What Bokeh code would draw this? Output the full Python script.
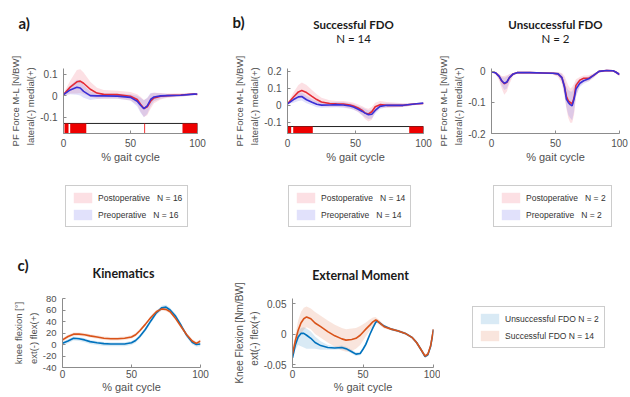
from bokeh.plotting import figure
from bokeh.layouts import column, row
from bokeh.models import (Range1d, FixedTicker, CustomJSTickFormatter,
                          Legend, LegendItem)
from bokeh.core.properties import value
from bokeh.embed import file_html
from bokeh.resources import INLINE

# ---------------- data ----------------
# Panel a) all patients (N=16)
xa = [0, 5, 10, 12.5, 15, 20, 25, 30, 40, 50, 55, 57.5, 60, 62.5, 65, 67.5, 72.5, 77.5, 87.5, 97.5, 100]
post_a = [0.005, 0.04, 0.065, 0.068, 0.058, 0.03, 0.012, 0.006, 0.005, -0.003, -0.018, -0.04, -0.06, -0.052, -0.026, -0.011, -0.003, 0, 0.003, 0.008, 0.005]
post_a_hi = [0.010, 0.070, 0.120, 0.123, 0.108, 0.065, 0.037, 0.026, 0.023, 0.017, 0.007, -0.005, -0.020, -0.012, 0.009, 0.014, 0.012, 0.010, 0.011, 0.013, 0.009]
post_a_lo = [0.000, 0.010, 0.010, 0.013, 0.008, -0.005, -0.013, -0.014, -0.013, -0.023, -0.043, -0.075, -0.100, -0.092, -0.061, -0.036, -0.018, -0.010, -0.005, 0.003, 0.001]
pre_a = [0.005, 0.027, 0.039, 0.036, 0.02, 0, -0.001, -0.001, -0.002, -0.008, -0.026, -0.045, -0.061, -0.048, -0.018, -0.006, -0.001, 0, 0.002, 0.007, 0.008]
pre_a_hi = [0.010, 0.047, 0.074, 0.071, 0.050, 0.020, 0.014, 0.011, 0.010, 0.007, -0.001, -0.010, -0.021, -0.010, 0.012, 0.014, 0.011, 0.008, 0.008, 0.012, 0.012]
pre_a_lo = [0.000, 0.007, 0.004, 0.001, -0.010, -0.020, -0.016, -0.013, -0.014, -0.023, -0.051, -0.080, -0.101, -0.086, -0.048, -0.026, -0.013, -0.008, -0.004, 0.002, 0.004]
sig_a_start = [0.75, 5, 60.3, 88.8]
sig_a_end = [3.75, 17, 60.9, 100]

# Panel b) successful FDO (N=14)
xb = [0, 4.4, 8, 10.5, 14, 18, 21.5, 25, 31, 36, 41, 46, 48.5, 52, 55, 57, 59.5, 62, 64.5, 68, 73, 85, 95, 100]
post_b = [0.009, 0.049, 0.079, 0.087, 0.075, 0.053, 0.034, 0.020, 0.011, 0.009, 0.008, 0.002, -0.004, -0.015, -0.030, -0.045, -0.051, -0.038, -0.008, 0.004, 0.000, 0.000, 0.009, 0.011]
post_b_hi = [0.012, 0.075, 0.120, 0.135, 0.120, 0.090, 0.065, 0.045, 0.030, 0.025, 0.025, 0.020, 0.015, 0.005, -0.005, -0.015, -0.020, -0.010, 0.015, 0.025, 0.020, 0.012, 0.014, 0.014]
post_b_lo = [0.006, 0.025, 0.040, 0.045, 0.035, 0.020, 0.005, -0.005, -0.008, -0.008, -0.010, -0.018, -0.025, -0.040, -0.060, -0.080, -0.095, -0.085, -0.040, -0.015, -0.015, -0.010, 0.004, 0.008]
pre_b = [0.009, 0.034, 0.050, 0.052, 0.033, 0.018, 0.006, 0.001, 0.002, 0.004, 0.002, -0.004, -0.010, -0.023, -0.036, -0.046, -0.055, -0.053, -0.030, -0.006, 0.000, 0.000, 0.009, 0.013]
pre_b_hi = [0.012, 0.055, 0.075, 0.075, 0.055, 0.038, 0.025, 0.018, 0.018, 0.020, 0.018, 0.012, 0.006, -0.005, -0.015, -0.022, -0.030, -0.028, -0.010, 0.010, 0.012, 0.010, 0.014, 0.016]
pre_b_lo = [0.006, 0.015, 0.025, 0.028, 0.012, 0.000, -0.012, -0.015, -0.013, -0.012, -0.014, -0.020, -0.026, -0.040, -0.058, -0.070, -0.080, -0.078, -0.050, -0.022, -0.012, -0.010, 0.004, 0.010]
sig_b_start = [0, 4.2, 89.5]
sig_b_end = [2.7, 18.6, 100]

# Panel b) unsuccessful FDO (N=2)
xc = [0, 3, 6, 8, 10, 12, 14, 17, 20, 30, 40, 48, 52, 55, 57, 58.5, 60, 61.5, 63, 64.5, 66, 69, 72, 76, 80, 84, 90, 95, 97, 100]
pre_c = [-0.001, -0.004, -0.016, -0.030, -0.038, -0.034, -0.020, -0.008, -0.004, -0.004, -0.005, -0.006, -0.008, -0.020, -0.050, -0.089, -0.100, -0.107, -0.111, -0.089, -0.057, -0.038, -0.030, -0.024, -0.012, 0.000, 0.003, 0.002, -0.002, -0.010]
post_c = [-0.001, -0.004, -0.016, -0.031, -0.040, -0.035, -0.020, -0.008, -0.004, -0.004, -0.005, -0.006, -0.008, -0.020, -0.048, -0.080, -0.095, -0.100, -0.105, -0.085, -0.045, -0.028, -0.022, -0.022, -0.012, 0.000, 0.003, 0.002, -0.002, -0.010]
post_c_hi = [0.000, -0.002, -0.008, -0.015, -0.015, -0.012, -0.008, -0.004, -0.002, -0.002, -0.003, -0.003, -0.002, -0.005, -0.015, -0.030, -0.045, -0.055, -0.050, -0.040, -0.025, -0.018, -0.013, -0.012, -0.006, 0.002, 0.005, 0.004, 0.001, -0.004]
post_c_lo = [-0.002, -0.006, -0.030, -0.055, -0.075, -0.065, -0.040, -0.014, -0.007, -0.006, -0.007, -0.010, -0.018, -0.040, -0.080, -0.120, -0.150, -0.165, -0.165, -0.140, -0.080, -0.045, -0.035, -0.032, -0.020, -0.004, 0.000, -0.001, -0.006, -0.016]
pre_c_hi = [0.000, -0.002, -0.009, -0.018, -0.020, -0.016, -0.010, -0.005, -0.002, -0.002, -0.003, -0.003, -0.003, -0.008, -0.025, -0.050, -0.060, -0.065, -0.065, -0.050, -0.035, -0.025, -0.020, -0.016, -0.007, 0.002, 0.005, 0.004, 0.001, -0.005]
pre_c_lo = [-0.002, -0.006, -0.025, -0.045, -0.060, -0.055, -0.032, -0.012, -0.006, -0.006, -0.007, -0.009, -0.014, -0.032, -0.075, -0.115, -0.140, -0.150, -0.157, -0.130, -0.080, -0.050, -0.040, -0.032, -0.018, -0.003, 0.001, 0.000, -0.005, -0.015]

# Panel c) kinematics (knee flexion, deg)
xk = [0, 4, 8, 12, 16, 20, 25, 30, 35, 40, 45, 50, 53, 56, 60, 64, 68, 72, 75, 78, 82, 86, 90, 94, 97, 100]
succ_k = [8, 14, 18, 18, 17, 15, 13, 11, 10, 10, 11, 13, 17, 24, 35, 47, 57, 62, 61, 57, 45, 31, 17, 6, 2, 6]
succ_k_hi = [11, 17, 21, 21, 20, 18, 16, 14, 13, 13, 14, 16, 20, 27, 38, 50, 60, 65, 64, 60, 48, 34, 20, 9, 5, 9]
succ_k_lo = [5, 11, 15, 15, 14, 12, 10, 8, 7, 7, 8, 10, 14, 21, 32, 44, 54, 59, 58, 54, 42, 28, 14, 3, -1, 3]
uns_k = [2, 6, 11, 10, 8, 5, 3, 1.5, 1, 1, 1, 3, 7, 14, 26, 41, 55, 64, 65, 60, 49, 33, 16, 4, 0, 1]
uns_k_hi = [5, 9, 14, 13, 11, 8, 6, 4.5, 4, 4, 4, 6, 10, 17, 29, 44, 58, 68, 69, 64, 53, 37, 19, 7, 3, 4]
uns_k_lo = [-2, 2, 7, 6, 4, 1, -1, -2.5, -3, -3, -3, -1, 3, 10, 22, 37, 51, 60, 61, 56, 45, 29, 12, 0, -4, -3]

# Panel c) external knee flexion moment (Nm/BW)
xm = [0, 2, 4, 6, 8, 10, 13, 16, 20, 25, 30, 35, 38, 42, 45, 48, 50, 52, 55, 57, 59, 60, 62, 65, 70, 75, 80, 85, 88, 91, 94, 96, 98, 100]
succ_m = [-0.033, -0.011, 0.006, 0.018, 0.025, 0.028, 0.025, 0.018, 0.012, 0.004, -0.003, -0.008, -0.010, -0.009, -0.007, -0.002, 0.003, 0.008, 0.015, 0.020, 0.023, 0.022, 0.018, 0.012, 0.008, 0.005, 0.001, -0.006, -0.014, -0.025, -0.036, -0.033, -0.019, 0.008]
succ_m_hi = [-0.028, -0.002, 0.022, 0.036, 0.043, 0.045, 0.042, 0.036, 0.030, 0.022, 0.015, 0.010, 0.008, 0.009, 0.010, 0.013, 0.016, 0.019, 0.024, 0.027, 0.028, 0.026, 0.022, 0.015, 0.010, 0.007, 0.003, -0.004, -0.011, -0.022, -0.033, -0.030, -0.016, 0.010]
succ_m_lo = [-0.038, -0.020, -0.010, 0.000, 0.007, 0.011, 0.008, 0.000, -0.006, -0.014, -0.021, -0.027, -0.029, -0.028, -0.024, -0.018, -0.011, -0.004, 0.006, 0.013, 0.018, 0.018, 0.014, 0.009, 0.006, 0.003, -0.001, -0.008, -0.017, -0.028, -0.039, -0.036, -0.022, 0.006]
uns_m = [-0.039, -0.018, -0.005, 0.001, 0.001, -0.002, -0.007, -0.014, -0.019, -0.022, -0.023, -0.022, -0.024, -0.029, -0.033, -0.032, -0.025, -0.017, 0.000, 0.010, 0.019, 0.021, 0.018, 0.013, 0.008, 0.005, 0.001, -0.006, -0.014, -0.025, -0.037, -0.034, -0.020, 0.007]
uns_m_hi = [-0.035, -0.012, 0.003, 0.010, 0.011, 0.009, 0.004, -0.004, -0.012, -0.018, -0.020, -0.019, -0.021, -0.026, -0.030, -0.029, -0.022, -0.013, 0.003, 0.013, 0.021, 0.023, 0.020, 0.015, 0.010, 0.007, 0.003, -0.004, -0.012, -0.023, -0.035, -0.032, -0.018, 0.009]
uns_m_lo = [-0.043, -0.026, -0.018, -0.020, -0.022, -0.024, -0.024, -0.024, -0.026, -0.026, -0.026, -0.025, -0.027, -0.032, -0.036, -0.035, -0.028, -0.021, -0.003, 0.007, 0.017, 0.019, 0.016, 0.011, 0.006, 0.003, -0.001, -0.008, -0.016, -0.027, -0.039, -0.036, -0.022, 0.005]

x_ticks = [0, 50, 100]

# ---------------- style ----------------
FONT = "Liberation Sans"
TFONT = "Lato"
TXT = "#505050"
AX = "#8c8c8c"
POST_LINE, PRE_LINE = "#e52a35", "#3a2fd6"
POST_BAND, PRE_BAND = "#f47f8f", "#8080f0"
BAND_ALPHA = 0.24
UNS, SUC = "#0072BD", "#D95319"
SIG = "#ee0000"
W = 630


def base_fig(w, h, bl, br, bt, bb, yr, yticks, ylabel, xls=3, xas=1):
    p = figure(width=w, height=h, x_range=Range1d(0, 100), y_range=Range1d(*yr),
               output_backend="svg", toolbar_location=None, title=None,
               min_border_left=bl, min_border_right=br,
               min_border_top=bt, min_border_bottom=bb)
    p.outline_line_color = None
    p.xgrid.visible = False
    p.ygrid.visible = False
    p.background_fill_color = "white"
    p.border_fill_color = "white"
    for ax in (p.xaxis[0], p.yaxis[0]):
        ax.axis_line_color = AX
        ax.major_tick_line_color = AX
        ax.major_tick_in = 3
        ax.major_tick_out = 0
        ax.minor_tick_line_color = None
        ax.major_label_text_font = FONT
        ax.major_label_text_font_size = "10px"
        ax.major_label_text_color = TXT
        ax.axis_label_text_font = FONT
        ax.axis_label_text_color = TXT
        ax.axis_label_text_font_style = "normal"
        ax.formatter = CustomJSTickFormatter(code="return tick.toString();")
    p.xaxis.axis_label_text_font_size = "11px"
    p.yaxis.axis_label_text_font_size = "9.5px"
    p.yaxis.axis_label_text_line_height = 1.35
    p.xaxis.ticker = FixedTicker(ticks=x_ticks)
    p.yaxis.ticker = FixedTicker(ticks=yticks)
    p.xaxis.axis_label = "% gait cycle"
    p.yaxis.axis_label = ylabel
    p.xaxis.major_label_standoff = xls
    p.xaxis.axis_label_standoff = xas
    p.yaxis.major_label_standoff = 6
    p.yaxis.axis_label_standoff = 1
    return p


def strip(w, h, bt=0, bb=0):
    # plain drawing strip: x and y measured in pixels from the top-left corner
    s = figure(width=w, height=h, x_range=Range1d(0, w), y_range=Range1d(h, 0),
               output_backend="svg", toolbar_location=None, title=None,
               x_axis_location=None, y_axis_location=None, min_border=0,
               min_border_top=bt, min_border_bottom=bb)
    s.outline_line_color = None
    s.xgrid.visible = False
    s.ygrid.visible = False
    s.background_fill_color = "white"
    s.border_fill_color = "white"
    return s


def put(s, x, y, txt, size, bold=False, align="center", font=TFONT, color="#1a1a1a"):
    s.text(x=[x], y=[y], text=[txt], text_font=value(font), text_font_size=size,
           text_font_style="bold" if bold else "normal", text_align=align,
           text_baseline="middle", text_color=color)


def make_legend(items, loc):
    return Legend(items=items, location=loc, orientation="vertical",
                  glyph_width=23, glyph_height=13, label_height=13,
                  label_standoff=4, spacing=4, padding=5, margin=0,
                  border_line_color="#9a9a9a", border_line_width=1,
                  background_fill_color="white", background_fill_alpha=1,
                  label_text_font=FONT, label_text_font_size="8.5px",
                  label_text_color="#333333")


def pf_bands(p, x, post_hi, post_lo, pre_hi, pre_lo):
    p.varea(x=x, y1=post_lo, y2=post_hi, fill_color=POST_BAND, fill_alpha=BAND_ALPHA)
    p.varea(x=x, y1=pre_lo, y2=pre_hi, fill_color=PRE_BAND, fill_alpha=BAND_ALPHA)


def pf_lines(p, x, post, pre):
    p.line(x, post, line_color=POST_LINE, line_width=1.6)
    p.line(x, pre, line_color=PRE_LINE, line_width=1.6)


PF_LABEL = "PF Force M-L [N/BW]\nlateral(-)     medial(+)"

# ---- header strip (y 0-50) ----
hdr = strip(W, 50)
put(hdr, 18, 22, "a)", "15px", bold=True, align="left")
put(hdr, 232, 21, "b)", "15px", bold=True, align="left")
put(hdr, 353, 24, "Successful FDO", "11.5px", bold=True)
put(hdr, 353, 38, "N = 14", "11.5px")
put(hdr, 555, 24, "Unsuccessful FDO", "11.5px", bold=True)
put(hdr, 555, 38, "N = 2", "11.5px")

# ---- top row (y 50-165); frames share top/bottom edges ----
TB, BB = 18, 30
pa = base_fig(215, 115, 63, 18, TB, BB, (-0.177, 0.127), [-0.1, 0, 0.1], PF_LABEL, xls=5, xas=1)
pf_bands(pa, xa, post_a_hi, post_a_lo, pre_a_hi, pre_a_lo)
bar_a = (-0.177, -0.13)
pa.quad(left=[0], right=[100], bottom=[bar_a[0]], top=[bar_a[1]], fill_color="white", line_color="#222222", line_width=1)
pa.quad(left=sig_a_start, right=sig_a_end, bottom=bar_a[0], top=bar_a[1], fill_color=SIG, line_color=None)
pf_lines(pa, xa, post_a, pre_a)

pb = base_fig(218, 115, 72, 10, TB, BB, (-0.166, 0.217), [-0.1, 0, 0.1, 0.2], PF_LABEL, xls=5, xas=1)
pf_bands(pb, xb, post_b_hi, post_b_lo, pre_b_hi, pre_b_lo)
bar_b = (-0.166, -0.125)
pb.quad(left=[0], right=[100], bottom=[bar_b[0]], top=[bar_b[1]], fill_color="white", line_color="#222222", line_width=1)
pb.quad(left=sig_b_start, right=sig_b_end, bottom=bar_b[0], top=bar_b[1], fill_color=SIG, line_color=None)
pf_lines(pb, xb, post_b, pre_b)

pc = base_fig(197, 115, 58, 11, TB, BB, (-0.2, 0.0094), [-0.2, -0.1, 0], PF_LABEL, xls=5, xas=1)
pf_bands(pc, xc, post_c_hi, post_c_lo, pre_c_hi, pre_c_lo)
pf_lines(pc, xc, post_c, pre_c)

# ---- middle strip (y 165-282): legends + section c titles ----
mid = strip(W, 117)
mid.extra_y_ranges = {"hidden": Range1d(5, 6)}
# swatch renderers: the real bands of panel a, kept outside the visible range
r_post = mid.varea(x=xa, y1=post_a_lo, y2=post_a_hi, fill_color=POST_BAND,
                   fill_alpha=BAND_ALPHA, y_range_name="hidden")
r_pre = mid.varea(x=xa, y1=pre_a_lo, y2=pre_a_hi, fill_color=PRE_BAND,
                  fill_alpha=BAND_ALPHA, y_range_name="hidden")
for n, loc in [("16", (65, 55)), ("14", (288, 55)), ("2", (493, 55))]:
    mid.add_layout(make_legend([
        LegendItem(label="Postoperative   N = " + n, renderers=[r_post]),
        LegendItem(label="Preoperative   N = " + n, renderers=[r_pre]),
    ], loc), "center")
put(mid, 17, 99, "c)", "15px", bold=True, align="left")
put(mid, 123, 108, "Kinematics", "12.5px", bold=True)
put(mid, 360, 110, "External Moment", "12.5px", bold=True)

# ---- bottom row (y 282-397); frames share top/bottom edges ----
TB2, BB2 = 16, 30
pk = base_fig(230, 115, 62, 30, TB2, BB2, (-40, 80), [-40, -20, 0, 20, 40, 60, 80],
              "knee flexion [°]\next(-)     flex(+)", xls=2, xas=0)
pk.yaxis.major_label_text_font_size = "9.5px"
pk.varea(x=xk, y1=uns_k_lo, y2=uns_k_hi, fill_color=UNS, fill_alpha=0.15)
pk.varea(x=xk, y1=succ_k_lo, y2=succ_k_hi, fill_color=SUC, fill_alpha=0.15)
pk.line(xk, uns_k, line_color=UNS, line_width=1.6)
pk.line(xk, succ_k, line_color=SUC, line_width=1.6)

pm = base_fig(210, 115, 60, 7, TB2, BB2, (-0.0549, 0.0582), [-0.05, 0, 0.05],
              "Knee Flexion [Nm/BW]\next(-)     flex(+)", xls=2, xas=0)
pm.yaxis.axis_label_text_font_size = "10px"
pm.varea(x=xm, y1=uns_m_lo, y2=uns_m_hi, fill_color=UNS, fill_alpha=0.15)
pm.varea(x=xm, y1=succ_m_lo, y2=succ_m_hi, fill_color=SUC, fill_alpha=0.15)
pm.line(xm, uns_m, line_color=UNS, line_width=1.6)
pm.line(xm, succ_m, line_color=SUC, line_width=1.6)

lg2 = strip(190, 115, bt=TB2, bb=BB2)
lg2.extra_y_ranges = {"hidden": Range1d(5, 6)}
r_uns = lg2.varea(x=xm, y1=uns_m_lo, y2=uns_m_hi, fill_color=UNS, fill_alpha=0.15,
                  y_range_name="hidden")
r_suc = lg2.varea(x=xm, y1=succ_m_lo, y2=succ_m_hi, fill_color=SUC, fill_alpha=0.15,
                  y_range_name="hidden")
lg2.add_layout(make_legend([
    LegendItem(label="Unsuccessful FDO N = 2", renderers=[r_uns]),
    LegendItem(label="Successful FDO N = 14", renderers=[r_suc]),
], (32, 19)), "center")

layout = column(hdr, row(pa, pb, pc), mid, row(pk, pm, lg2))

open("out.html", "w").write(file_html(layout, INLINE))
